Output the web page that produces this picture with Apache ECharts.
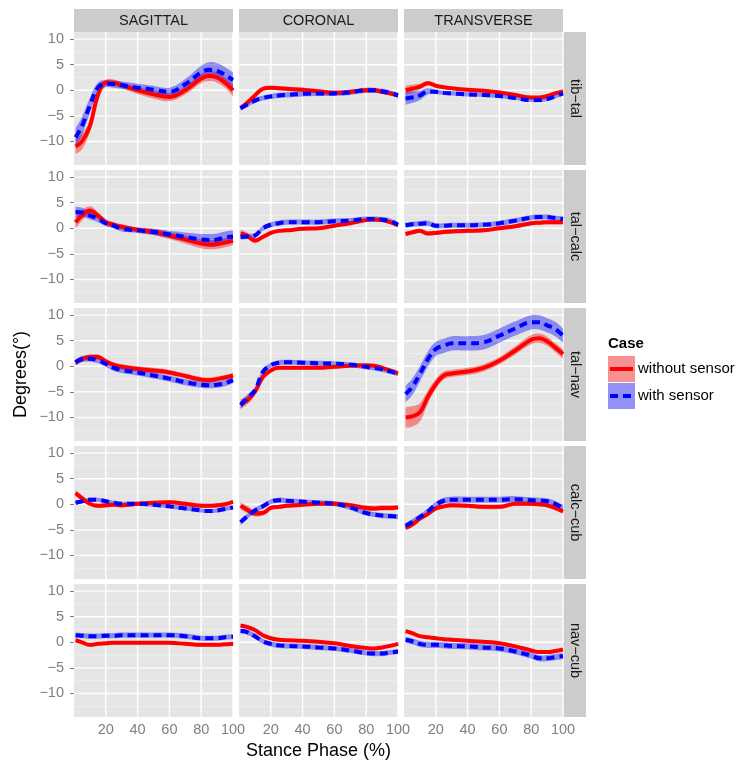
<!DOCTYPE html>
<html><head><meta charset="utf-8">
<script src="https://cdn.jsdelivr.net/npm/echarts@6/dist/echarts.min.js"></script>
<style>html,body{margin:0;padding:0;background:#fff}#c{width:741px;height:762px}</style>
</head><body><div id="c"></div>
<script>
// ---------------- data ----------------
const stance = [1,5,10,15,20,25,30,40,50,60,70,80,85,90,95,100];
const planes = ['SAGITTAL','CORONAL','TRANSVERSE'];
const joints = ['tib\u2212tal','tal\u2212calc','tal\u2212nav','calc\u2212cub','nav\u2212cub'];
const caseNames = ['without sensor','with sensor'];
const yTicks = [-10,-5,0,5,10];
const yMinorTicks = [-12.5,-7.5,-2.5,2.5,7.5];
const xTicks = [20,40,60,80,100];

// mean angles (degrees)
const tibTalSagWithout = [-11,-10,-7,-1,1.5,1.5,1.0,0,-0.8,-1.3,0,2.3,2.8,2.5,1.5,0];
const tibTalSagWith    = [-9.2,-7,-3,0.5,1.3,1.2,1.0,0.5,0.1,-0.3,1.2,3.5,4.0,3.8,3.0,2.0];
const tibTalCorWithout = [-3.5,-2.5,-1,0.3,0.5,0.4,0.3,0.1,-0.2,-0.5,-0.3,0,0,-0.3,-0.6,-1.0];
const tibTalCorWith    = [-3.5,-2.8,-2,-1.5,-1.2,-1.0,-0.9,-0.7,-0.6,-0.6,-0.4,0,0,-0.2,-0.5,-1.0];
const tibTalTraWithout = [0,0.3,0.7,1.4,0.9,0.6,0.4,0.1,-0.1,-0.4,-0.9,-1.4,-1.4,-1.1,-0.6,-0.2];
const tibTalTraWith    = [-1.6,-1.4,-1.0,-0.2,-0.3,-0.5,-0.6,-0.8,-0.9,-1.1,-1.5,-1.9,-1.9,-1.7,-1.2,-0.6];

const talCalcSagWithout = [1.2,2.5,3.5,2.5,1.2,0.7,0.3,-0.3,-0.7,-1.4,-2.2,-3.0,-3.2,-3.1,-2.8,-2.4];
const talCalcSagWith    = [3.2,3.1,2.5,1.9,1.0,0.5,-0.1,-0.4,-0.7,-1.2,-1.7,-2.2,-2.3,-2.2,-1.8,-1.6];
const talCalcCorWithout = [-1.0,-1.4,-2.4,-1.7,-0.9,-0.5,-0.4,-0.1,0,0.5,1.0,1.6,1.7,1.6,1.2,0.6];
const talCalcCorWith    = [-1.7,-1.6,-1.4,0,0.7,1.0,1.2,1.2,1.2,1.4,1.5,1.8,1.8,1.7,1.4,0.7];
const talCalcTraWithout = [-1.1,-0.8,-0.5,-1.0,-0.9,-0.7,-0.6,-0.5,-0.4,0,0.4,1.0,1.1,1.2,1.2,1.2];
const talCalcTraWith    = [0.6,0.8,0.9,1.0,0.5,0.5,0.6,0.6,0.7,1.0,1.5,2.1,2.2,2.2,2.0,1.8];

const talNavSagWithout = [0.7,1.4,1.8,1.8,1.0,0.3,-0.1,-0.5,-0.8,-1.2,-1.9,-2.6,-2.7,-2.5,-2.2,-1.8];
const talNavSagWith    = [0.8,1.4,1.5,1.2,0.5,-0.3,-0.7,-1.2,-1.8,-2.4,-3.1,-3.6,-3.7,-3.6,-3.3,-2.7];
const talNavCorWithout = [-7.3,-6.7,-5.0,-2.1,-0.8,-0.3,-0.3,-0.3,-0.3,-0.1,0.1,0.2,0.1,-0.3,-0.8,-1.4];
const talNavCorWith    = [-7.6,-6.3,-4.7,-1.1,0.2,0.7,0.8,0.7,0.6,0.5,0.3,-0.1,-0.3,-0.6,-1.0,-1.4];
const talNavTraWithout = [-10,-9.8,-9,-6,-3.5,-1.8,-1.4,-1.0,-0.3,1.1,3.1,5.2,5.5,4.9,3.7,2.4];
const talNavTraWith    = [-5.4,-4.1,-1.5,1.4,3.4,4.0,4.5,4.5,4.7,6.0,7.4,8.6,8.6,8.0,7.3,6.0];

const calcCubSagWithout = [2.2,1.2,0.1,-0.3,-0.2,-0.1,-0.2,0.1,0.3,0.4,0.1,-0.3,-0.3,-0.2,0,0.5];
const calcCubSagWith    = [0.3,0.6,0.9,0.9,0.6,0.3,0.1,0.1,-0.1,-0.4,-0.8,-1.2,-1.3,-1.2,-0.9,-0.6];
const calcCubCorWithout = [-0.3,-1.0,-1.8,-1.7,-0.7,-0.5,-0.3,-0.1,0.1,0.1,-0.2,-0.7,-0.8,-0.7,-0.7,-0.6];
const calcCubCorWith    = [-3.5,-2.4,-1.2,-0.4,0.5,0.8,0.7,0.5,0.3,0.1,-0.6,-1.7,-2.0,-2.2,-2.3,-2.4];
const calcCubTraWithout = [-4.6,-4.0,-2.8,-1.9,-0.8,-0.4,-0.2,-0.3,-0.5,-0.5,0.1,0.1,0,-0.2,-0.7,-1.4];
const calcCubTraWith    = [-4.2,-3.5,-2.5,-1.4,-0.1,0.7,0.9,0.9,0.9,0.9,1.0,0.8,0.7,0.6,0.1,-0.7];

const navCubSagWithout = [0.4,0,-0.5,-0.3,-0.2,-0.1,-0.1,-0.1,-0.1,-0.1,-0.3,-0.5,-0.5,-0.5,-0.4,-0.3];
const navCubSagWith    = [1.4,1.3,1.2,1.2,1.3,1.3,1.4,1.4,1.4,1.4,1.2,0.8,0.8,0.8,1.0,1.1];
const navCubCorWithout = [3.3,3.0,2.4,1.4,0.8,0.5,0.4,0.3,0.1,-0.2,-0.7,-1.1,-1.2,-1.0,-0.7,-0.3];
const navCubCorWith    = [2.2,2.0,1.2,0.2,-0.3,-0.6,-0.7,-0.8,-1.0,-1.2,-1.6,-2.1,-2.2,-2.2,-2.0,-1.8];
const navCubTraWithout = [2.2,1.8,1.2,1.0,0.8,0.6,0.5,0.3,0.1,-0.2,-0.8,-1.6,-1.9,-1.9,-1.7,-1.4];
const navCubTraWith    = [0.5,0.2,-0.3,-0.5,-0.5,-0.6,-0.7,-0.8,-1.0,-1.2,-1.8,-2.6,-3.1,-3.1,-2.9,-2.7];

// ribbon half-widths (degrees)
const tibTalSagWithoutSd = [1.5,1.5,1.2,0.9,0.6,0.6,0.6,0.7,0.8,0.8,0.8,0.9,1.0,1.0,1.0,1.2];
const tibTalSagWithSd    = [1.8,1.8,1.5,1.0,0.7,0.7,0.7,0.8,0.8,0.8,1.0,1.3,1.5,1.5,1.5,1.5];
const tibTalCorWithoutSd = 0.4;
const tibTalCorWithSd    = 0.5;
const tibTalTraWithoutSd = [0.9,0.8,0.6,0.4,0.3,0.3,0.3,0.3,0.3,0.3,0.3,0.3,0.3,0.3,0.3,0.3];
const tibTalTraWithSd    = [1.2,1.1,0.9,0.6,0.4,0.4,0.4,0.4,0.4,0.4,0.4,0.4,0.4,0.4,0.4,0.4];
const talCalcSagWithoutSd = [1.2,1.0,0.8,0.7,0.6,0.5,0.5,0.5,0.6,0.7,0.8,0.9,0.9,0.9,0.9,0.9];
const talCalcSagWithSd    = [1.0,0.9,0.8,0.7,0.6,0.5,0.5,0.5,0.6,0.7,0.9,1.1,1.2,1.2,1.2,1.2];
const talCalcCorWithoutSd = [0.7,0.6,0.5,0.4,0.3,0.3,0.3,0.3,0.3,0.3,0.3,0.3,0.3,0.3,0.3,0.3];
const talCalcCorWithSd    = 0.5;
const talCalcTraWithoutSd = 0.4;
const talCalcTraWithSd    = 0.5;
const talNavSagWithoutSd = 0.5;
const talNavSagWithSd    = 0.6;
const talNavCorWithoutSd = [0.9,0.8,0.6,0.4,0.3,0.3,0.3,0.3,0.3,0.3,0.3,0.3,0.3,0.3,0.3,0.3];
const talNavCorWithSd    = [0.8,0.7,0.6,0.5,0.5,0.5,0.5,0.5,0.5,0.5,0.5,0.5,0.5,0.5,0.5,0.5];
const talNavTraWithoutSd = [2.0,2.0,1.8,1.3,1.0,0.8,0.7,0.7,0.7,0.7,0.8,0.9,0.9,0.9,0.9,0.9];
const talNavTraWithSd    = [1.6,1.6,1.5,1.5,1.4,1.4,1.4,1.4,1.4,1.4,1.4,1.4,1.4,1.4,1.4,1.4];
const calcCubSagWithoutSd = [0.6,0.5,0.4,0.4,0.4,0.4,0.4,0.4,0.4,0.4,0.4,0.4,0.4,0.4,0.4,0.4];
const calcCubSagWithSd    = 0.4;
const calcCubCorWithoutSd = [0.7,0.7,0.6,0.5,0.4,0.4,0.4,0.4,0.4,0.4,0.4,0.5,0.5,0.5,0.5,0.5];
const calcCubCorWithSd    = 0.5;
const calcCubTraWithoutSd = 0.4;
const calcCubTraWithSd    = 0.6;
const navCubSagWithoutSd = 0.3;
const navCubSagWithSd    = 0.5;
const navCubCorWithoutSd = 0.3;
const navCubCorWithSd    = 0.5;
const navCubTraWithoutSd = 0.3;
const navCubTraWithSd    = 0.6;

// panel tables [row][col]
const meanWithout = [
  [tibTalSagWithout, tibTalCorWithout, tibTalTraWithout],
  [talCalcSagWithout, talCalcCorWithout, talCalcTraWithout],
  [talNavSagWithout, talNavCorWithout, talNavTraWithout],
  [calcCubSagWithout, calcCubCorWithout, calcCubTraWithout],
  [navCubSagWithout, navCubCorWithout, navCubTraWithout]
];
const meanWith = [
  [tibTalSagWith, tibTalCorWith, tibTalTraWith],
  [talCalcSagWith, talCalcCorWith, talCalcTraWith],
  [talNavSagWith, talNavCorWith, talNavTraWith],
  [calcCubSagWith, calcCubCorWith, calcCubTraWith],
  [navCubSagWith, navCubCorWith, navCubTraWith]
];
const sdWithout = [
  [tibTalSagWithoutSd, tibTalCorWithoutSd, tibTalTraWithoutSd],
  [talCalcSagWithoutSd, talCalcCorWithoutSd, talCalcTraWithoutSd],
  [talNavSagWithoutSd, talNavCorWithoutSd, talNavTraWithoutSd],
  [calcCubSagWithoutSd, calcCubCorWithoutSd, calcCubTraWithoutSd],
  [navCubSagWithoutSd, navCubCorWithoutSd, navCubTraWithoutSd]
];
const sdWith = [
  [tibTalSagWithSd, tibTalCorWithSd, tibTalTraWithSd],
  [talCalcSagWithSd, talCalcCorWithSd, talCalcTraWithSd],
  [talNavSagWithSd, talNavCorWithSd, talNavTraWithSd],
  [calcCubSagWithSd, calcCubCorWithSd, calcCubTraWithSd],
  [navCubSagWithSd, navCubCorWithSd, navCubTraWithSd]
];

// ---------------- layout / style ----------------
const FONT = "'Liberation Sans', Arial, Helvetica, sans-serif";
const colLeft = [74, 239, 404];
const rowTop = [32, 170, 308, 446, 584];
const panelW = 159, panelH = 133;
const yMin = -14.6, yMax = 11.4;
const RED = '#FF0000', BLUE = '#0000FF';
const RED_FILL = 'rgba(255,0,0,0.4)', BLUE_FILL = 'rgba(0,0,255,0.4)';

function sdAt(sd, i) { return Array.isArray(sd) ? sd[i] : sd; }
const minus = v => String(v).replace('-', '\u2212');

const grids = [], xAxes = [], yAxes = [], series = [];
const gridData = [];
yTicks.forEach(v => gridData.push([0, v]));
yMinorTicks.forEach(v => gridData.push([1, v]));
xTicks.forEach(v => gridData.push([2, v]));

function renderGrid(params, api) {
  const kind = api.value(0), v = api.value(1);
  const cs = params.coordSys;
  if (kind === 2) {
    const p = api.coord([v, 0]);
    return { type: 'line', silent: true,
      shape: { x1: p[0], y1: cs.y, x2: p[0], y2: cs.y + cs.height },
      style: { stroke: '#FFFFFF', lineWidth: 1.4 } };
  }
  const p = api.coord([0, v]);
  return { type: 'line', silent: true,
    shape: { x1: cs.x, y1: p[1], x2: cs.x + cs.width, y2: p[1] },
    style: { stroke: kind === 0 ? '#FFFFFF' : '#F2F2F2', lineWidth: kind === 0 ? 1.4 : 0.7 } };
}

// ribbon polygon (mean ± sd) drawn through the axis scales
function ribbonRenderer(mean, sd, fill) {
  return function (params, api) {
    const up = stance.map((x, i) => api.coord([x, mean[i] + sdAt(sd, i)]));
    const lo = stance.map((x, i) => api.coord([x, mean[i] - sdAt(sd, i)])).reverse();
    // duplicate end points so the ends stay square
    const pts = [up[0]].concat(up, [up[up.length - 1]], [lo[0]], lo, [lo[lo.length - 1]]);
    return { type: 'polygon', silent: true,
      shape: { points: pts, smooth: 0.4 },
      style: { fill: fill } };
  };
}

for (let r = 0; r < joints.length; r++) {
  for (let c = 0; c < planes.length; c++) {
    const k = grids.length;
    grids.push({ left: colLeft[c], top: rowTop[r], width: panelW, height: panelH,
      show: true, backgroundColor: '#E5E5E5', borderWidth: 0 });
    const bottom = r === joints.length - 1;
    xAxes.push({ type: 'value', gridIndex: k, min: 0, max: 100,
      axisLine: { show: false }, splitLine: { show: false },
      axisTick: { show: bottom, customValues: xTicks, length: 4, lineStyle: { color: '#7F7F7F', width: 1 } },
      axisLabel: { show: bottom, customValues: xTicks, color: '#7F7F7F', fontSize: 14.5, fontFamily: FONT, margin: 5 } });
    yAxes.push({ type: 'value', gridIndex: k, min: yMin, max: yMax,
      axisLine: { show: false }, splitLine: { show: false },
      axisTick: { show: c === 0, customValues: yTicks, length: 4, lineStyle: { color: '#7F7F7F', width: 1 } },
      axisLabel: { show: c === 0, customValues: yTicks, color: '#7F7F7F', fontSize: 14.5, fontFamily: FONT, margin: 10,
        formatter: minus } });

    series.push({ type: 'custom', xAxisIndex: k, yAxisIndex: k, z: 1, silent: true,
      clip: false, renderItem: renderGrid, data: gridData });

    const cases = [
      { mean: meanWithout[r][c], sd: sdWithout[r][c], fill: RED_FILL, color: RED, dash: 'solid', name: caseNames[0] },
      { mean: meanWith[r][c], sd: sdWith[r][c], fill: BLUE_FILL, color: BLUE, dash: [8, 5], name: caseNames[1] }
    ];
    cases.forEach((cs) => {
      series.push({ type: 'custom', xAxisIndex: k, yAxisIndex: k, z: 2, silent: true, clip: true,
        renderItem: ribbonRenderer(cs.mean, cs.sd, cs.fill),
        data: [[stance[0], cs.mean[0]]] });
    });
    cases.forEach((cs, ci) => {
      series.push({ type: 'line', name: cs.name, xAxisIndex: k, yAxisIndex: k, z: 3 + ci, silent: true,
        smooth: 0.4, symbol: 'none',
        lineStyle: { color: cs.color, width: 4, type: cs.dash, cap: 'butt' },
        data: stance.map((x, i) => [x, cs.mean[i]]) });
    });
  }
}

// strips, titles, legend
const graphic = [];
planes.forEach((p, c) => {
  graphic.push({ type: 'rect', silent: true, shape: { x: colLeft[c], y: 9, width: panelW, height: 23 }, style: { fill: '#CCCCCC' } });
  graphic.push({ type: 'text', silent: true, x: colLeft[c] + panelW / 2, y: 21,
    style: { text: p, fill: '#1A1A1A', font: '14.5px ' + FONT, align: 'center', verticalAlign: 'middle' } });
});
joints.forEach((j, r) => {
  graphic.push({ type: 'rect', silent: true, shape: { x: colLeft[2] + panelW, y: rowTop[r], width: 23, height: panelH }, style: { fill: '#CCCCCC' } });
  graphic.push({ type: 'text', silent: true, x: colLeft[2] + panelW + 11.5, y: rowTop[r] + panelH / 2,
    rotation: -Math.PI / 2,
    style: { text: j, fill: '#1A1A1A', font: '14.5px ' + FONT, align: 'center', verticalAlign: 'middle' } });
});
graphic.push({ type: 'text', silent: true, x: (colLeft[0] + colLeft[2] + panelW) / 2, y: 751,
  style: { text: 'Stance Phase (%)', fill: '#000', font: '18px ' + FONT, align: 'center', verticalAlign: 'middle' } });
graphic.push({ type: 'text', silent: true, x: 21, y: (rowTop[0] + rowTop[4] + panelH) / 2,
  rotation: Math.PI / 2,
  style: { text: 'Degrees(\u00B0)', fill: '#000', font: '18px ' + FONT, align: 'center', verticalAlign: 'middle' } });
// legend
graphic.push({ type: 'text', silent: true, x: 608, y: 344,
  style: { text: 'Case', fill: '#000', font: 'bold 15px ' + FONT, align: 'left', verticalAlign: 'middle' } });
const keyFills = ['#F79191', '#9191F7'];
const keyColors = [RED, BLUE];
caseNames.forEach((n, i) => {
  const ky = 356 + i * 27;
  graphic.push({ type: 'rect', silent: true, shape: { x: 608, y: ky, width: 27, height: 26 }, style: { fill: keyFills[i] } });
  graphic.push({ type: 'line', silent: true, shape: { x1: 610, y1: ky + 13, x2: 633, y2: ky + 13 },
    style: { stroke: keyColors[i], lineWidth: 4, lineDash: i === 0 ? null : [8, 5] } });
  graphic.push({ type: 'text', silent: true, x: 638, y: ky + 13,
    style: { text: n, fill: '#000', font: '15px ' + FONT, align: 'left', verticalAlign: 'middle' } });
});

const chart = echarts.init(document.getElementById('c'), null, { renderer: 'canvas' });
chart.setOption({
  animation: false,
  backgroundColor: '#FFFFFF',
  grid: grids, xAxis: xAxes, yAxis: yAxes, series: series, graphic: graphic
});
</script></body></html>
